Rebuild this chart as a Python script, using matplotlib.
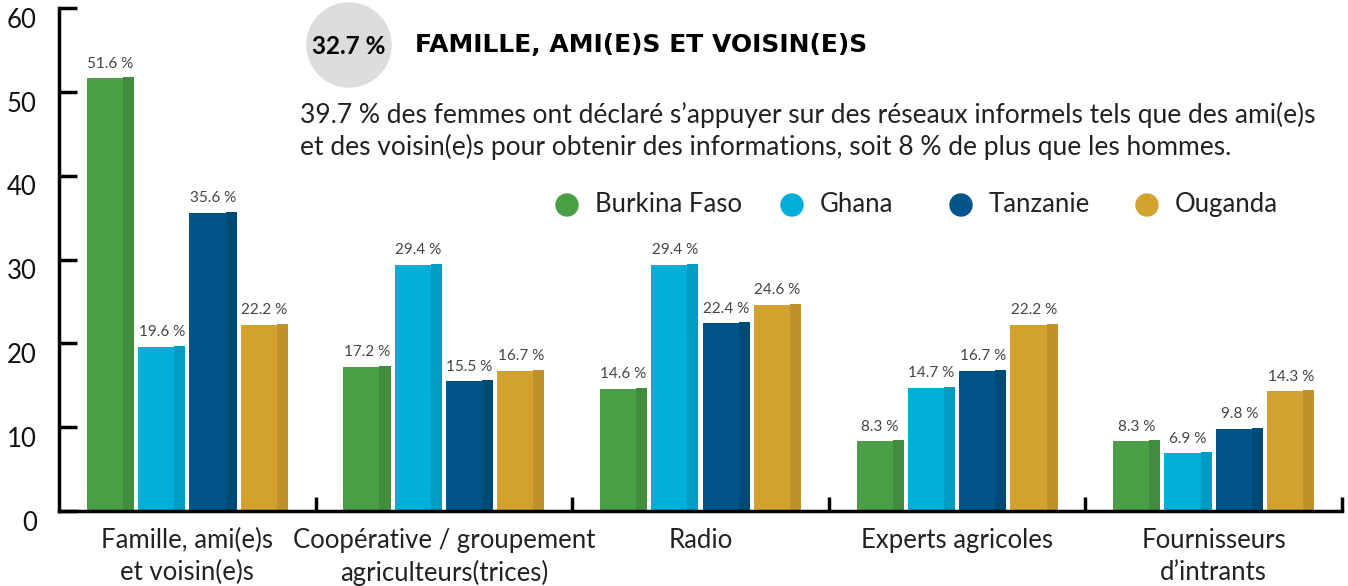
import matplotlib.pyplot as plt
import matplotlib.transforms as mtransforms
from matplotlib.patches import Ellipse
import numpy as np

plt.rcParams['font.family'] = ['Lato', 'DejaVu Sans']

categories = ["Famille, ami(e)s\net voisin(e)s", "Coopérative / groupement\nagriculteurs(trices)",
              "Radio", "Experts agricoles", "Fournisseurs\nd’intrants"]
countries = ["Burkina Faso", "Ghana", "Tanzanie", "Ouganda"]
burkina = [51.6, 17.2, 14.6, 8.3, 8.3]
ghana = [19.6, 29.4, 29.4, 14.7, 6.9]
tanzanie = [35.6, 15.5, 22.4, 16.7, 9.8]
ouganda = [22.2, 16.7, 24.6, 22.2, 14.3]

series = [burkina, ghana, tanzanie, ouganda]
front_colors = ["#4a9e46", "#00afd8", "#00548a", "#d3a12d"]
side_colors = ["#428c3e", "#009cc3", "#004a78", "#bf912b"]

fig = plt.figure(figsize=(13.48, 5.86), dpi=100)
ax = fig.add_axes([59/1348, 75/586, 1283/1348, 503/586])
ax.patch.set_alpha(0)

x = np.arange(len(categories))
offsets = [-0.3, -0.1, 0.1, 0.3]
bw = 0.184
front_w = 0.141
side_w = bw - front_w
for vals, off, fc, sc in zip(series, offsets, front_colors, side_colors):
    left = x + off - bw / 2
    ax.bar(left, vals, width=front_w, align='edge', color=fc, linewidth=0)
    ax.bar(left + front_w, np.array(vals) + 0.12, width=side_w, align='edge', color=sc, linewidth=0)
    for xi, v in zip(x + off, vals):
        ax.text(xi, v + 0.9, f"{v} %", ha='center', va='bottom', fontsize=11, color='#444444')

ax.set_xlim(-0.5, 4.5)
ax.set_ylim(0, 60)
ax.set_yticks(range(0, 61, 10))
ax.tick_params(axis='y', direction='in', length=13, width=2.5, labelsize=18.5, pad=16, labelcolor='#111111')
shift = mtransforms.ScaledTranslation(0, -7/72, fig.dpi_scale_trans)
for lab in ax.get_yticklabels():
    lab.set_transform(lab.get_transform() + shift)
ax.set_xticks(x)
ax.set_xticklabels(categories, fontsize=18.5, color='#222222', linespacing=1.35)
ax.tick_params(axis='x', length=0, pad=12)
ax.set_xticks(np.arange(0.5, 5, 1), minor=True)
ax.tick_params(axis='x', which='minor', direction='in', length=10, width=2.5)
for s in ['top', 'right']:
    ax.spines[s].set_visible(False)
for s in ['left', 'bottom']:
    ax.spines[s].set_linewidth(2.5)

# title block
fig.add_artist(Ellipse((349/1348, 1 - 45/586), 84/1348, 84/586, transform=fig.transFigure,
                       color='#dcdcde', zorder=-1))
fig.text(349/1348, 1 - 46/586, "32.7 %", ha='center', va='center', fontsize=17.5, fontweight='bold')
fig.text(415/1348, 1 - 45/586, "FAMILLE, AMI(E)S ET VOISIN(E)S", ha='left', va='center',
         fontsize=18, fontweight='bold', family='DejaVu Sans')
fig.text(300/1348, 1 - 131/586,
         "39.7 % des femmes ont déclaré s’appuyer sur des réseaux informels tels que des ami(e)s\n"
         "et des voisin(e)s pour obtenir des informations, soit 8 % de plus que les hommes.",
         ha='left', va='center', fontsize=19, color='#222222', linespacing=1.32)

# legend
lx = [567, 792, 961, 1147]
for px, name, c in zip(lx, countries, front_colors):
    fig.add_artist(Ellipse((px/1348, 1 - 205/586), 22/1348, 22/586, transform=fig.transFigure, color=c))
    fig.text((px + 28)/1348, 1 - 204/586, name, ha='left', va='center', fontsize=18.5, color='#222222')

fig.savefig("out.png", dpi=100)
